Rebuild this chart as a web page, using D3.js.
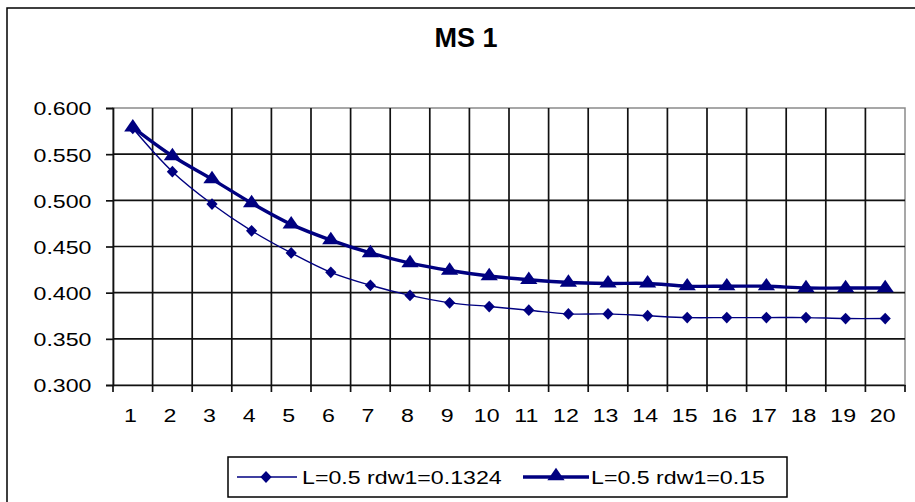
<!DOCTYPE html>
<html>
<head>
<meta charset="utf-8">
<script src="https://cdn.jsdelivr.net/npm/d3@7"></script>
<style>
  html, body { margin: 0; padding: 0; background: #fff; }
  svg { display: block; }
  text { font-family: "Liberation Sans", Arial, sans-serif; fill: #000; }
</style>
</head>
<body>
<svg id="chart" width="915" height="502"></svg>
<script>
const title = "MS 1";
const categories = ["1","2","3","4","5","6","7","8","9","10","11","12","13","14","15","16","17","18","19","20"];
const series1Name = "L=0.5 rdw1=0.1324";
const series1 = [0.578, 0.531, 0.496, 0.467, 0.443, 0.422, 0.408, 0.397, 0.389, 0.385, 0.381, 0.377, 0.377, 0.375, 0.373, 0.373, 0.373, 0.373, 0.372, 0.372];
const series2Name = "L=0.5 rdw1=0.15";
const series2 = [0.579, 0.548, 0.523, 0.497, 0.474, 0.457, 0.443, 0.432, 0.424, 0.418, 0.414, 0.411, 0.410, 0.410, 0.407, 0.407, 0.407, 0.405, 0.405, 0.405];
const yTicks = [0.300, 0.350, 0.400, 0.450, 0.500, 0.550, 0.600];

const svg = d3.select("#chart");
const navy = "#000080";
const SX = 1.22; // horizontal stretch of text in the reference
const plot = {left: 113, right: 905, top: 108, bottom: 385};

// outer chart frame (only top and left are visible in the reference)
svg.append("rect").attr("x", 7).attr("y", 8).attr("width", 940).attr("height", 540)
  .attr("fill", "#fff").attr("stroke", "#000").attr("stroke-width", 1.5);

// title
svg.append("text").attr("x", 466).attr("y", 47).attr("text-anchor", "middle")
  .style("font-size", "27px").style("font-weight", "bold").text(title);

const x = d3.scaleBand().domain(categories).range([plot.left, plot.right]).padding(0);
const y = d3.scaleLinear().domain([0.3, 0.6]).range([plot.bottom, plot.top]);

// plot area background + border (gray)
svg.append("rect").attr("x", plot.left).attr("y", plot.top)
  .attr("width", plot.right - plot.left).attr("height", plot.bottom - plot.top)
  .attr("fill", "#fff").attr("stroke", "#8a8a8a").attr("stroke-width", 1.5);

// horizontal gridlines
svg.append("g").selectAll("line").data(yTicks.filter(d => d > 0.3 && d < 0.6)).join("line")
  .attr("x1", plot.left).attr("x2", plot.right)
  .attr("y1", d => y(d)).attr("y2", d => y(d))
  .attr("stroke", "#111").attr("stroke-width", 1.7);

// vertical gridlines at category boundaries
const bounds = categories.slice(1).map(c => x(c));
svg.append("g").selectAll("line").data(bounds).join("line")
  .attr("x1", d => d).attr("x2", d => d)
  .attr("y1", plot.top).attr("y2", plot.bottom)
  .attr("stroke", "#111").attr("stroke-width", 1.7);

// x tick marks at boundaries (including both ends)
const allBounds = [plot.left, ...bounds, plot.right];
svg.append("g").selectAll("line").data(allBounds).join("line")
  .attr("x1", d => d).attr("x2", d => d)
  .attr("y1", plot.bottom).attr("y2", plot.bottom + 7)
  .attr("stroke", "#111").attr("stroke-width", 1.7);

// Y axis
const yAxis = svg.append("g").attr("transform", `translate(${plot.left},0)`)
  .call(d3.axisLeft(y).tickValues(yTicks).tickFormat(d3.format(".3f")).tickSize(7));
yAxis.select(".domain").attr("stroke", "#111").attr("stroke-width", 1.7);
yAxis.selectAll(".tick line").attr("stroke", "#111").attr("stroke-width", 1.7);
yAxis.selectAll(".tick text")
  .attr("x", -21.5 / SX).attr("dy", "0.36em")
  .attr("transform", `scale(${SX},1)`)
  .style("font-size", "19px").attr("fill", "#000");

// X axis (labels at band centres)
const xAxis = svg.append("g").attr("transform", `translate(0,${plot.bottom})`)
  .call(d3.axisBottom(x).tickSize(0));
xAxis.select(".domain").attr("stroke", "#111").attr("stroke-width", 1.7);
xAxis.selectAll(".tick text")
  .attr("y", 37).attr("dy", 0).attr("x", -2)
  .attr("transform", `scale(${SX},1)`)
  .style("font-size", "19px").attr("fill", "#000");

// lines
const cx = c => x(c) + x.bandwidth() / 2;
const line = d3.line().x((d, i) => cx(categories[i])).y(d => y(d)).curve(d3.curveCatmullRom.alpha(0.5));

svg.append("path").datum(series1).attr("d", line)
  .attr("fill", "none").attr("stroke", navy).attr("stroke-width", 1.4);
svg.append("path").datum(series2).attr("d", line)
  .attr("fill", "none").attr("stroke", navy).attr("stroke-width", 3.4);

const diamond = d3.symbol().type(d3.symbolDiamond2).size(80);
const tri = d3.symbol().type(d3.symbolTriangle).size(90);

svg.append("g").selectAll("path").data(series1).join("path")
  .attr("d", diamond)
  .attr("transform", (d, i) => `translate(${cx(categories[i])},${y(d)}) scale(1,1.05)`)
  .attr("fill", navy);
svg.append("g").selectAll("path").data(series2).join("path")
  .attr("d", tri)
  .attr("transform", (d, i) => `translate(${cx(categories[i])},${y(d)}) scale(1.2,1)`)
  .attr("fill", navy);

// legend
const lg = svg.append("g");
lg.append("rect").attr("x", 228).attr("y", 457).attr("width", 559).attr("height", 40)
  .attr("fill", "#fff").attr("stroke", "#000").attr("stroke-width", 1.5);
const ly = 477;
lg.append("line").attr("x1", 237).attr("x2", 297).attr("y1", ly).attr("y2", ly)
  .attr("stroke", navy).attr("stroke-width", 1.4);
lg.append("path").attr("d", diamond).attr("transform", `translate(266,${ly}) scale(1,1.05)`).attr("fill", navy);
lg.append("text").attr("transform", `translate(302,${ly + 7}) scale(${SX},1)`)
  .style("font-size", "19px").text(series1Name);
lg.append("line").attr("x1", 523).attr("x2", 589).attr("y1", ly).attr("y2", ly)
  .attr("stroke", navy).attr("stroke-width", 3.4);
lg.append("path").attr("d", tri).attr("transform", `translate(556,${ly - 1}) scale(1.2,1)`).attr("fill", navy);
lg.append("text").attr("transform", `translate(591,${ly + 7}) scale(${SX},1)`)
  .style("font-size", "19px").text(series2Name);
</script>
</body>
</html>
